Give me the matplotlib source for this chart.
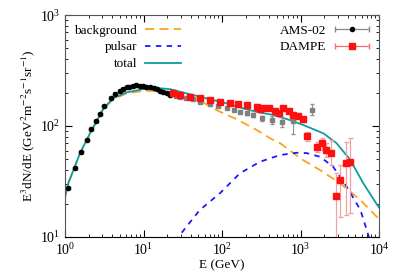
import numpy as np
import matplotlib.pyplot as plt
from matplotlib.legend_handler import HandlerErrorbar

plt.rcParams['font.family'] = ['Liberation Serif', 'DejaVu Serif']
plt.rcParams['mathtext.fontset'] = 'stix'
plt.rcParams['font.size'] = 9.5

# AMS-02 (low energy, black dots)
ams_E = [1.10, 1.34, 1.58, 1.89, 2.14, 2.48, 2.82, 3.14, 3.82, 4.38, 5.02, 5.5,
         6.1, 6.6, 7.4, 8.1, 9.0, 9.9, 10.9, 12.0, 13.4, 14.7, 16.2, 17.8, 19.7, 22.0]
ams_F = [27.8, 42, 58, 74.8, 94, 112, 129, 150, 178, 194, 208, 216,
         223, 227, 231, 232, 231, 229, 226, 223, 219, 214, 208, 203, 197, 192]
# AMS-02 high energy part (grey squares)
amsh_E = [26, 29, 35, 42.6, 52, 70, 90, 115, 140, 169, 205, 250, 320, 430, 575, 805, 1380]
amsh_F = [188, 184, 178, 174, 166, 158, 150, 144, 139, 134.6, 130, 125.6, 117, 113, 109, 110, 139]
amsh_lo = [3, 3, 3, 3, 3, 3, 3, 3, 3, 3, 4, 5, 7, 9, 11, 26, 13]
amsh_hi = [3, 3, 3, 3, 3, 3, 3, 3, 3, 3, 4, 5, 7, 10, 12, 18, 19]

# DAMPE
dampe_E = [24, 29, 39, 52, 70, 94, 126, 161, 205, 277, 306, 333, 400, 470, 535, 600,
           710, 805, 930, 1060, 1220, 1600, 1860, 2140, 2450, 2830, 3200, 3780, 4300]
dampe_F = [197, 190, 184, 178, 171, 164, 160, 158, 155, 149, 141, 144, 144, 136, 132, 144,
           137, 126, 123, 115, 82, 65, 70, 61, 57.5, 23.4, 32.7, 46.7, 47.7]
dampe_lo = [3, 3, 3, 3, 3, 3, 3, 3, 3, 3, 3, 3, 4, 4, 4, 5,
            5, 5, 6, 6, 9, 7, 9, 8, 13, 19, 17.5, 31, 31.4]
dampe_hi = [3, 3, 3, 3, 3, 3, 3, 3, 3, 3, 3, 3, 4, 4, 4, 5,
            5, 5, 6, 6, 7, 7, 7.5, 9, 17, 14, 12, 25, 31]

# model curves
bg_E = [1, 1.1, 1.55, 2.08, 3.08, 4.1, 6.1, 9.9, 16, 29, 43, 58, 94, 154, 277,
        410, 550, 1000, 1780, 3200, 5800, 10000]
bg_F = [23, 30.5, 56.5, 85, 142, 174, 197, 207, 208, 192, 178, 162, 134.6, 115, 92,
        77.5, 70, 51, 40, 30.5, 21.5, 14.5]
psr_E = [25, 27.7, 52, 94, 169, 305, 550, 890, 1200, 1780, 2600, 3870, 5800, 7300, 8000]
psr_F = [9.2, 10, 17.5, 24.8, 37.5, 47.7, 54.8, 57.4, 57, 52.8, 43, 28.4, 17.5, 10.4, 8.5]
tot_E = [1, 1.1, 1.55, 2.08, 3.08, 4.1, 6.1, 9.9, 16, 21.8, 29, 52, 70, 115, 186,
         305, 450, 735, 1090, 1950, 2880, 4300, 6300, 9500, 10000]
tot_F = [23, 30.5, 56.8, 86, 144, 178, 201, 215, 219, 215, 204, 184, 174, 160, 144,
         132, 126, 113, 102, 86, 70, 49.5, 30.5, 19.4, 18.5]

fig = plt.figure(figsize=(3.99, 2.79), dpi=100)
ax = fig.add_axes([0.163, 0.1505, 0.787, 0.7955])

l_bg, = ax.plot(bg_E, bg_F, color='#ffa31a', lw=1.3, dashes=(5, 3), label='background')
l_psr, = ax.plot(psr_E, psr_F, color='#1a1aff', lw=1.3, dashes=(3, 3), label='pulsar')
l_tot, = ax.plot(tot_E, tot_F, color='#109c9c', lw=1.3, label='total')

ams_xerr = np.array(ams_E) * 0.06
ax.errorbar(ams_E, ams_F, xerr=ams_xerr, yerr=np.array(ams_F) * 0.02,
            fmt='o', ms=3, color='black', ecolor='#888888', elinewidth=0.8,
            capsize=1.5, zorder=4)
ax.errorbar(amsh_E, amsh_F, yerr=[amsh_lo, amsh_hi], fmt='s', ms=3.2,
            color='#808080', ecolor='#909090', elinewidth=0.8, capsize=1.5, zorder=3)
ax.errorbar(dampe_E, dampe_F, yerr=[dampe_lo, dampe_hi], fmt='s', ms=3.8,
            color='#ff1010', ecolor='#f5a0a0', elinewidth=0.9, capsize=1.8, zorder=5)

# legend proxies (horizontal bars like gnuplot keys)
p_ams = ax.errorbar([np.nan], [np.nan], xerr=[1], fmt='o', ms=3, color='black',
                    ecolor='#888888', elinewidth=0.9, capsize=2, label='AMS-02')
p_dam = ax.errorbar([np.nan], [np.nan], xerr=[1], fmt='s', ms=3.8, color='#ff1010',
                    ecolor='#ff6a6a', elinewidth=0.9, capsize=2, label='DAMPE')

ax.set_xscale('log')
ax.set_yscale('log')
ax.set_xlim(1, 1e4)
ax.set_ylim(10, 1000)
ax.set_xlabel('E (GeV)', labelpad=1)
ax.set_ylabel(r'E$^3$dN/dE (GeV$^2$m$^{-2}$s$^{-1}$sr$^{-1}$)', labelpad=2)

ax.tick_params(which='both', direction='in', top=True, right=True, labelsize=10)
ax.tick_params(which='major', length=5, width=0.8)
ax.tick_params(which='minor', length=2.5, width=0.6)
for s in ax.spines.values():
    s.set_color('#555555')
ax.spines['bottom'].set_color('black')

leg1 = ax.legend(handles=[l_bg, l_psr, l_tot], loc='upper left', frameon=False,
                 markerfirst=False, handlelength=2.7, labelspacing=0.35,
                 borderaxespad=0.3, handletextpad=0.6)
ax.add_artist(leg1)
ax.legend(handles=[p_ams, p_dam], loc='upper right', frameon=False,
          markerfirst=False, handlelength=2.7, labelspacing=0.35,
          borderaxespad=0.3, handletextpad=0.6,
          handler_map={type(p_ams): HandlerErrorbar(xerr_size=1.3, numpoints=1)})

fig.savefig('out.png', dpi=100)
